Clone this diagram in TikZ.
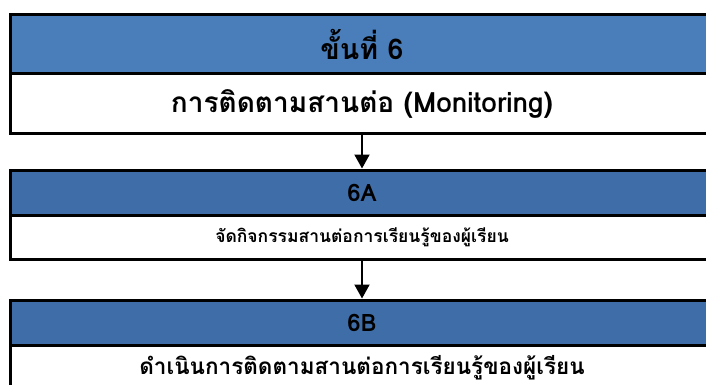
\documentclass[tikz,border=0pt]{standalone}
\usepackage{fontspec}
\newfontfamily\thaifont[Script=Thai]{Loma}
\usepackage{tikz}
\usetikzlibrary{positioning,arrows.meta}
\definecolor{headblue}{HTML}{4A7EBB}
\definecolor{headdark}{HTML}{3E6DA7}

\begin{document}
\begin{tikzpicture}[x=1pt, y=-1pt,
  headbox/.style={draw, line width=3pt, fill=headblue, minimum width=703pt,
               inner sep=0pt, outer sep=0pt, font=\thaifont\bfseries\fontsize{28.5}{32}\selectfont},
  bodybox/.style={draw, line width=3pt, fill=white, minimum width=703pt,
               inner sep=0pt, outer sep=0pt, font=\thaifont\bfseries\fontsize{28}{32}\selectfont},
  arr/.style={-{Triangle[width=15pt,length=14pt]}, line width=2pt,
               shorten <=1.5pt, shorten >=2pt}
]
  \useasboundingbox (0,0) rectangle (706,385);

  \node[headbox, minimum height=59pt, anchor=north west] (h1) at (10.5,14.5)
    {ขั้นที่ 6};
  \node[bodybox, minimum height=60pt, below=0pt of h1] (b1)
    {การติดตามสานต่อ (Monitoring)};

  \node[headbox, fill=headdark, minimum height=45pt, below=37pt of b1,
        font=\thaifont\bfseries\fontsize{24}{28}\selectfont] (h2)
    {6A};
  \node[bodybox, minimum height=44pt, below=0pt of h2,
        font=\thaifont\bfseries\fontsize{17.5}{21}\selectfont] (b2)
    {จัดกิจกรรมสานต่อการเรียนรู้ของผู้เรียน};

  \node[headbox, fill=headdark, minimum height=45pt, below=41pt of b2,
        font=\thaifont\bfseries\fontsize{24}{28}\selectfont] (h3)
    {6B};
  \node[bodybox, minimum height=44pt, below=0pt of h3,
        font=\thaifont\bfseries\fontsize{22.5}{26}\selectfont] (b3)
    {ดำเนินการติดตามสานต่อการเรียนรู้ของผู้เรียน};

  \draw[arr] (b1.south) -- (h2.north);
  \draw[arr] (b2.south) -- (h3.north);
\end{tikzpicture}
\end{document}
